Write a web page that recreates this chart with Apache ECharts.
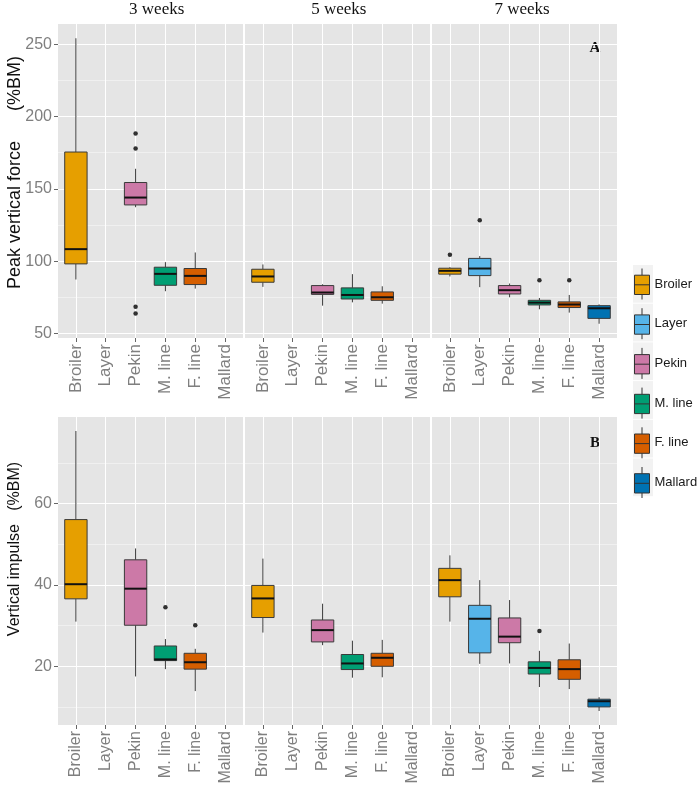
<!DOCTYPE html>
<html><head><meta charset="utf-8">
<script src="https://cdn.jsdelivr.net/npm/echarts@6/dist/echarts.min.js"></script>
<style>html,body{margin:0;padding:0;background:#fff}#chart{width:700px;height:790px}</style>
</head><body><div id="chart"></div>
<script>
// ---------------- data ----------------
const groups = ['Broiler', 'Layer', 'Pekin', 'M. line', 'F. line', 'Mallard'];
const weeks = ['3 weeks', '5 weeks', '7 weeks'];
const colors = ['#E69F00', '#56B4E9', '#CC79A7', '#009E73', '#D55E00', '#0072B2'];

// five-number summaries [min, Q1, median, Q3, max] per group; null = not measured
const forceW3 = [[87.3, 98.1, 108.3, 175.5, 254.2], null, [137.3, 138.9, 144.0, 154.4, 163.9], [79.2, 83.3, 91.2, 95.8, 99.3], [81.0, 83.8, 89.8, 94.9, 106.0], null];
const forceW5 = [[82.2, 85.4, 89.4, 94.4, 97.7], null, [69.2, 77.0, 78.3, 83.1, 84.0], [71.5, 73.8, 76.6, 81.5, 91.0], [70.6, 72.9, 75.0, 78.7, 82.6], null];
const forceW7 = [[89.4, 91.0, 93.3, 95.1, 95.8], [82.0, 90.0, 94.9, 101.9, 103.5], [75.0, 77.3, 79.9, 83.1, 84.5], [66.7, 69.7, 71.3, 72.9, 74.5], [64.4, 67.9, 70.0, 71.8, 76.6], [56.7, 60.4, 67.4, 69.2, 70.1]];
const forceOutW3 = [['Pekin', 188.4], ['Pekin', 178.0], ['Pekin', 68.5], ['Pekin', 63.7]];
const forceOutW5 = [];
const forceOutW7 = [['Broiler', 104.4], ['Layer', 128.3], ['M. line', 86.8], ['F. line', 86.8]];

const impulseW3 = [[31.0, 36.6, 40.2, 56.1, 77.9], null, [17.5, 30.1, 39.1, 46.2, 49.0], [19.3, 21.4, 21.7, 25.0, 26.7], [13.9, 19.3, 21.0, 23.2, 24.3], null];
const impulseW5 = [[28.3, 32.0, 36.7, 39.9, 46.5], null, [25.2, 26.0, 28.9, 31.4, 35.4], [17.2, 19.2, 20.7, 22.9, 26.3], [17.3, 20.0, 22.1, 23.2, 26.5], null];
const impulseW7 = [[31.0, 37.1, 41.2, 44.1, 47.3], [20.6, 23.3, 31.7, 35.0, 41.2], [20.7, 25.8, 27.3, 31.9, 36.3], [14.9, 18.1, 19.6, 21.1, 23.8], [14.4, 16.8, 19.3, 21.6, 25.6], [9.0, 10.0, 11.4, 11.9, 12.4]];
const impulseOutW3 = [['M. line', 34.5], ['F. line', 30.1]];
const impulseOutW5 = [];
const impulseOutW7 = [['M. line', 28.7]];

const forceTicks = [50, 100, 150, 200, 250];
const forceMinorTicks = [75, 125, 175, 225];
const impulseTicks = [20, 40, 60];
const impulseMinorTicks = [10, 30, 50, 70];

const rowsData = [
  { boxes: [forceW3, forceW5, forceW7], outliers: [forceOutW3, forceOutW5, forceOutW7],
    major: forceTicks, minor: forceMinorTicks, title: 'Peak vertical force      (%BM)', tag: 'A' },
  { boxes: [impulseW3, impulseW5, impulseW7], outliers: [impulseOutW3, impulseOutW5, impulseOutW7],
    major: impulseTicks, minor: impulseMinorTicks, title: 'Vertical impulse   (%BM)', tag: 'B' }
];

// ---------------- layout ----------------
const panelLefts = [58, 245, 432];
const panelW = 185;
const rowBoxes = [{ top: 24, bottom: 338 }, { top: 417, bottom: 725 }];
const SANS = '"Liberation Sans", Arial, sans-serif';
const SERIF = '"Liberation Serif", "Times New Roman", serif';

function limitsOf(row) {
  let lo = Infinity, hi = -Infinity;
  row.boxes.forEach(w => w.forEach(b => { if (b) { lo = Math.min(lo, b[0]); hi = Math.max(hi, b[4]); } }));
  row.outliers.forEach(w => w.forEach(o => { lo = Math.min(lo, o[1]); hi = Math.max(hi, o[1]); }));
  const pad = (hi - lo) * 0.05;
  return [lo - pad, hi + pad];
}

function renderBox(params, api) {
  const x = api.value(0);
  const lo = api.coord([x, api.value(1)]);
  const q1 = api.coord([x, api.value(2)]);
  const md = api.coord([x, api.value(3)]);
  const q3 = api.coord([x, api.value(4)]);
  const hi = api.coord([x, api.value(5)]);
  const bw = api.size([1, 0])[0] * 0.75;
  const half = bw / 2;
  const color = api.visual('color');
  const wStyle = { stroke: '#3a3a3a', lineWidth: 1 };
  return {
    type: 'group',
    children: [
      { type: 'line', shape: { x1: hi[0], y1: hi[1], x2: q3[0], y2: q3[1] }, style: wStyle },
      { type: 'line', shape: { x1: q1[0], y1: q1[1], x2: lo[0], y2: lo[1] }, style: wStyle },
      { type: 'rect', shape: { x: q3[0] - half, y: q3[1], width: bw, height: q1[1] - q3[1] },
        style: { fill: color, stroke: '#3a3a3a', lineWidth: 1 } },
      { type: 'line', shape: { x1: md[0] - half, y1: md[1], x2: md[0] + half, y2: md[1] },
        style: { stroke: '#111', lineWidth: 2 } }
    ]
  };
}

const grid = [], xAxis = [], yAxis = [], series = [], graphic = [];
function addGrid(g) { grid.push(g); return grid.length - 1; }

rowsData.forEach((row, r) => {
  const lim = limitsOf(row);
  const T = rowBoxes[r].top, B = rowBoxes[r].bottom, H = B - T;
  const px = v => T + (lim[1] - v) / (lim[1] - lim[0]) * H;
  const mj = row.major, mn = row.minor;
  weeks.forEach((wk, c) => {
    const L = panelLefts[c];
    // panel background
    let gi = addGrid({ left: L, top: T, width: panelW, height: H, show: true, backgroundColor: '#E5E5E5', borderWidth: 0 });
    xAxis.push({ gridIndex: gi, type: 'value', show: false });
    yAxis.push({ gridIndex: gi, type: 'value', show: false });
    // minor horizontal grid
    gi = addGrid({ left: L, width: panelW, top: px(mn[mn.length - 1]), height: px(mn[0]) - px(mn[mn.length - 1]) });
    xAxis.push({ gridIndex: gi, type: 'value', show: false });
    yAxis.push({ gridIndex: gi, type: 'value', min: mn[0], max: mn[mn.length - 1], interval: mn[1] - mn[0],
      axisLine: { show: false }, axisTick: { show: false }, axisLabel: { show: false },
      splitLine: { show: true, lineStyle: { color: '#F2F2F2', width: 0.8 } } });
    // major horizontal grid + y labels
    gi = addGrid({ left: L, width: panelW, top: px(mj[mj.length - 1]), height: px(mj[0]) - px(mj[mj.length - 1]) });
    xAxis.push({ gridIndex: gi, type: 'value', show: false });
    yAxis.push({ gridIndex: gi, type: 'value', min: mj[0], max: mj[mj.length - 1], interval: mj[1] - mj[0],
      axisLine: { show: false },
      axisTick: { show: c === 0, length: 4, lineStyle: { color: '#666' } },
      axisLabel: { show: c === 0, color: '#7F7F7F', fontSize: 16, margin: 6, fontFamily: SANS },
      splitLine: { show: true, lineStyle: { color: '#FFFFFF', width: 1 } } });
    // data grid (ggplot discrete expansion 0.6)
    const unit = panelW / 6.2;
    gi = addGrid({ left: L + 0.1 * unit, width: 6 * unit, top: T, height: H });
    xAxis.push({ gridIndex: gi, type: 'category', data: groups, boundaryGap: true,
      axisLine: { show: false, onZero: false },
      axisTick: { show: true, alignWithLabel: true, length: 4, lineStyle: { color: '#666' } },
      axisLabel: { rotate: 90, interval: 0, color: '#7F7F7F', fontSize: r === 0 ? 17 : 16, margin: 6, fontFamily: SANS },
      splitLine: { show: true, alignWithLabel: true, interval: 0, lineStyle: { color: '#FFFFFF', width: 1 } } });
    yAxis.push({ gridIndex: gi, type: 'value', min: lim[0], max: lim[1], show: false });

    row.boxes[c].forEach((b, k) => {
      if (!b) return;
      series.push({ type: 'custom', name: groups[k], xAxisIndex: gi, yAxisIndex: gi,
        itemStyle: { color: colors[k] }, encode: { x: 0, y: [1, 2, 3, 4, 5] },
        data: [[k].concat(b)], renderItem: renderBox, z: 3 });
    });
    series.push({ type: 'scatter', name: 'outliers', xAxisIndex: gi, yAxisIndex: gi,
      data: row.outliers[c].map(o => [groups.indexOf(o[0]), o[1]]),
      symbolSize: 4.5, itemStyle: { color: '#000' }, z: 4, silent: true });

    if (r === 0) {
      graphic.push({ type: 'text', x: [156.7, 338.8, 522][c], y: 10,
        style: { text: wk, font: '17px ' + SERIF, fill: '#111', align: 'center', verticalAlign: 'middle',
          textAlign: 'center', textVerticalAlign: 'middle' } });
    }
    if (c === 2) {
      graphic.push({ type: 'text', x: 595, y: r === 0 ? 48 : 443,
        style: { text: row.tag, font: 'bold 15px ' + SERIF, fill: '#111', align: 'center', verticalAlign: 'middle',
          textAlign: 'center', textVerticalAlign: 'middle' } });
    }
  });
  graphic.push({ type: 'text', x: 15, y: r === 0 ? 172.5 : 549, rotation: Math.PI / 2,
    style: { text: row.title, font: (r === 0 ? 18 : 16) + 'px ' + SANS, fill: '#111', align: 'center', verticalAlign: 'middle',
      textAlign: 'center', textVerticalAlign: 'middle' } });
});

// legend key background
groups.forEach((g, i) => {
  graphic.push({ type: 'rect', shape: { x: 633, y: 265 + i * 38.7, width: 20, height: 37.7 },
    style: { fill: '#F2F2F2' }, z: -1 });
});

const boxIcon = 'path://M7.5,0L7.5,6.7M0,6.7L15,6.7L15,26L0,26ZM0,16.3L15,16.3M7.5,26L7.5,31';

const option = {
  animation: false,
  backgroundColor: '#FFFFFF',
  grid, xAxis, yAxis, series, graphic,
  legend: {
    orient: 'vertical', left: 634, top: 268, padding: 0,
    itemWidth: 15, itemHeight: 31, itemGap: 7.7,
    textStyle: { fontSize: 13, color: '#1a1a1a', fontFamily: SANS },
    data: groups.map((g, i) => ({ name: g, icon: boxIcon,
      itemStyle: { color: colors[i], borderColor: '#333', borderWidth: 1 } }))
  }
};

const chart = echarts.init(document.getElementById('chart'), null, { renderer: 'canvas' });
chart.setOption(option);
</script>
</body></html>
